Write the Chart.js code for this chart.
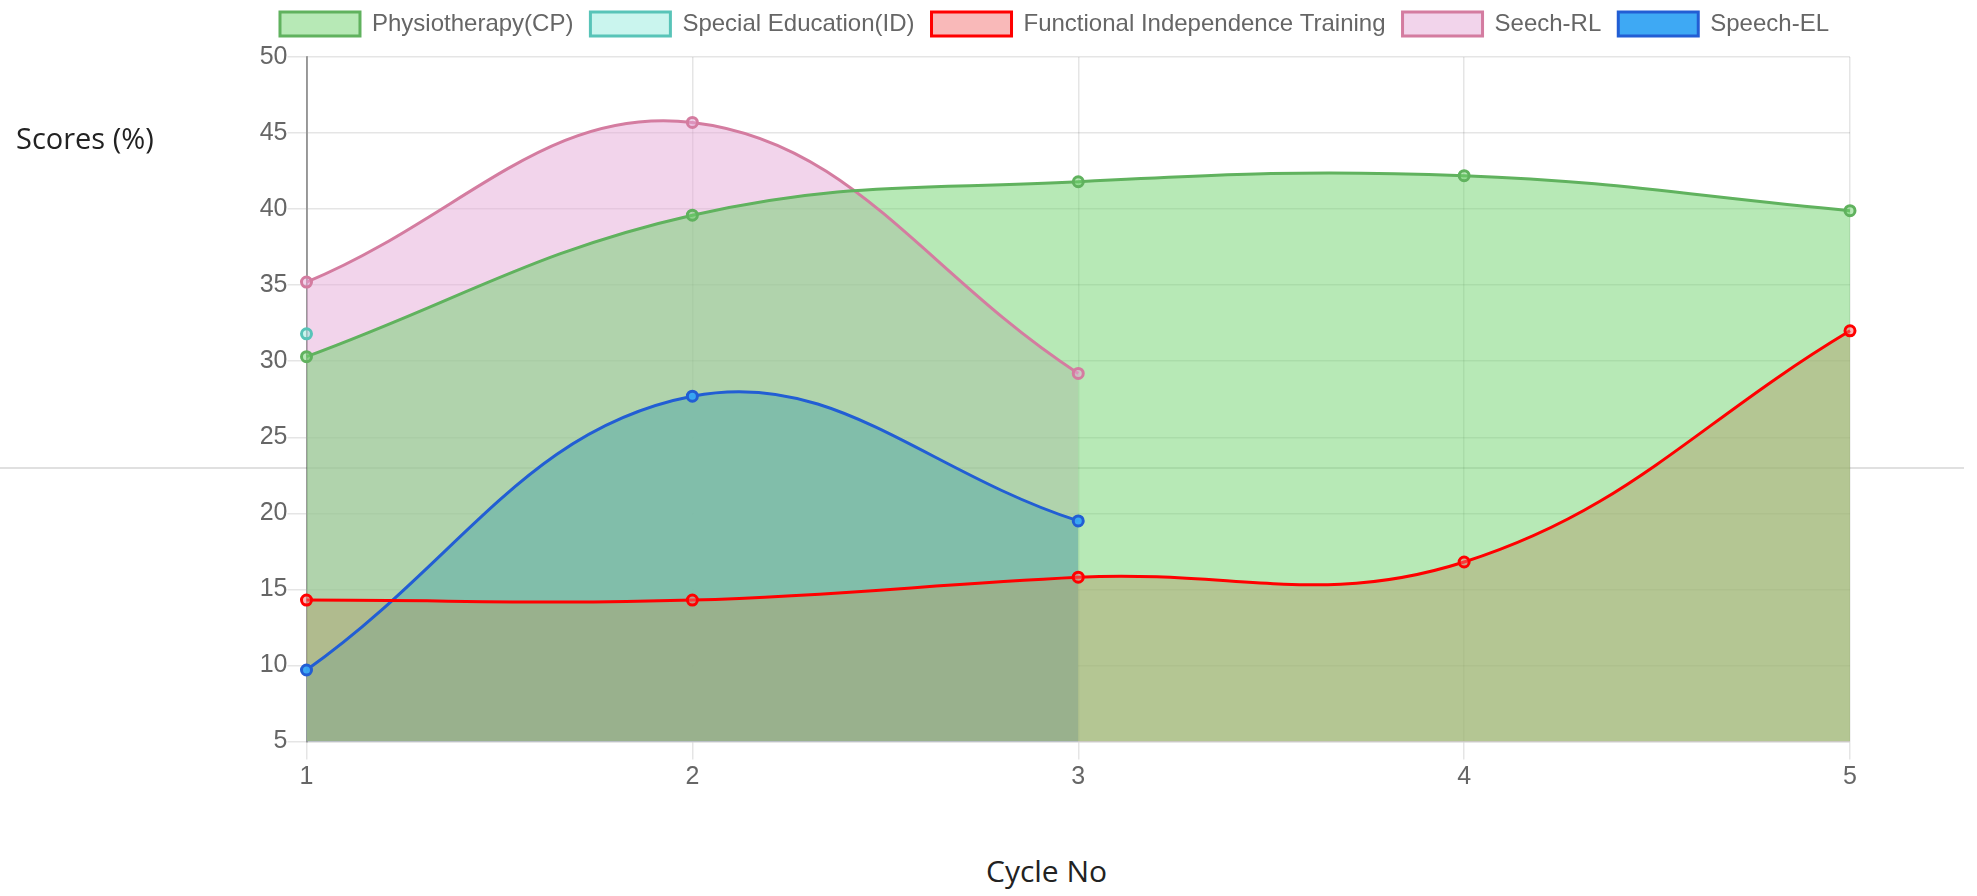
<!DOCTYPE html>
<html>
<head>
<meta charset="utf-8">
<script src="https://cdn.jsdelivr.net/npm/chart.js@4"></script>
<style>
  body { margin: 0; background: #fff; width: 1977px; height: 896px; overflow: hidden; position: relative; }
  #divider { position: absolute; left: 0; top: 467px; width: 1964px; height: 2px; background: #e0e0e0; z-index: 0; }
  #scoreChart { position: absolute; left: 0; top: -5px; z-index: 1; }
  .axis-title { position: absolute; font-family: 'Open Sans', sans-serif; color: #222; white-space: nowrap; z-index: 2; }
  #yTitle { left: 16px; top: 118px; font-size: 29px; }
  #xTitle { left: 986px; top: 850px; font-size: 30px; }
</style>
</head>
<body>
<div id="divider"></div>
<canvas id="scoreChart" width="1977" height="805"></canvas>
<div id="yTitle" class="axis-title">Scores (%)</div>
<div id="xTitle" class="axis-title">Cycle No</div>

<script>
// Cycle numbers on the x axis
const cycles = ['1', '2', '3', '4', '5'];

// Scores per therapy, one value per cycle
const physiotherapy = [30.3, 39.6, 41.8, 42.2, 39.9];
const specialEducation = [31.8];
const functionalTraining = [14.3, 14.3, 15.8, 16.8, 32.0];
const speechRL = [35.2, 45.7, 29.2];
const speechEL = [9.7, 27.7, 19.5];

// y axis range
const yMin = 5;
const yMax = 50;
const yStep = 5;

const ctx = document.getElementById('scoreChart').getContext('2d');

function makeDataset(label, data, borderColor, backgroundColor) {
  return {
    label: label,
    data: data,
    borderColor: borderColor,
    backgroundColor: backgroundColor,
    borderWidth: 3,
    fill: 'origin',
    tension: 0.4,
    pointRadius: 5,
    pointBorderWidth: 3,
    pointBackgroundColor: backgroundColor,
    pointBorderColor: borderColor,
  };
}

// Extra room between the legend and the plot
const legendSpacer = {
  id: 'legendSpacer',
  beforeInit(chart) {
    const originalFit = chart.legend.fit;
    chart.legend.fit = function fit() {
      originalFit.bind(chart.legend)();
      this.height += 11;
    };
  },
};

const scoreChart = new Chart(ctx, {
  type: 'line',
  data: {
    labels: cycles,
    datasets: [
      makeDataset('Physiotherapy(CP)', physiotherapy, 'rgb(96,178,94)', 'rgba(111,211,109,0.5)'),
      makeDataset('Special Education(ID)', specialEducation, 'rgb(88,196,184)', 'rgba(150,236,222,0.5)'),
      makeDataset('Functional Independence Training', functionalTraining, 'rgb(255,0,0)', 'rgba(243,115,115,0.5)'),
      makeDataset('Seech-RL', speechRL, 'rgb(212,124,160)', 'rgba(229,169,215,0.5)'),
      makeDataset('Speech-EL', speechEL, 'rgb(34,94,212)', 'rgba(56,166,244,0.97)'),
    ],
  },
  options: {
    responsive: false,
    animation: false,
    layout: {
      padding: { left: 259, right: 127, top: 0, bottom: 0 },
    },
    scales: {
      x: {
        grid: { color: 'rgba(0,0,0,0.1)', lineWidth: 1.5, tickLength: 18 },
        border: { color: 'rgba(0,0,0,0.1)', width: 1.5 },
        ticks: { color: '#666', padding: 3, font: { family: 'Liberation Sans', size: 25 } },
        afterFit: function (scale) { scale.height = 58.5; },
      },
      y: {
        min: yMin,
        max: yMax,
        grid: { color: 'rgba(0,0,0,0.1)', lineWidth: 1.5, tickLength: 19 },
        border: { color: 'rgba(0,0,0,0.35)', width: 2 },
        ticks: { stepSize: yStep, color: '#666', padding: 0, font: { family: 'Liberation Sans', size: 25 } },
        afterFit: function (scale) { scale.width = 47.5; },
      },
    },
    plugins: {
      filler: { drawTime: 'beforeDatasetsDraw' },
      tooltip: { enabled: false },
      legend: {
        display: true,
        labels: {
          boxWidth: 80,
          boxHeight: 24,
          padding: 17,
          color: '#666',
          font: { family: 'Liberation Sans', size: 24 },
        },
      },
    },
  },
  plugins: [legendSpacer],
});
</script>
</body>
</html>
